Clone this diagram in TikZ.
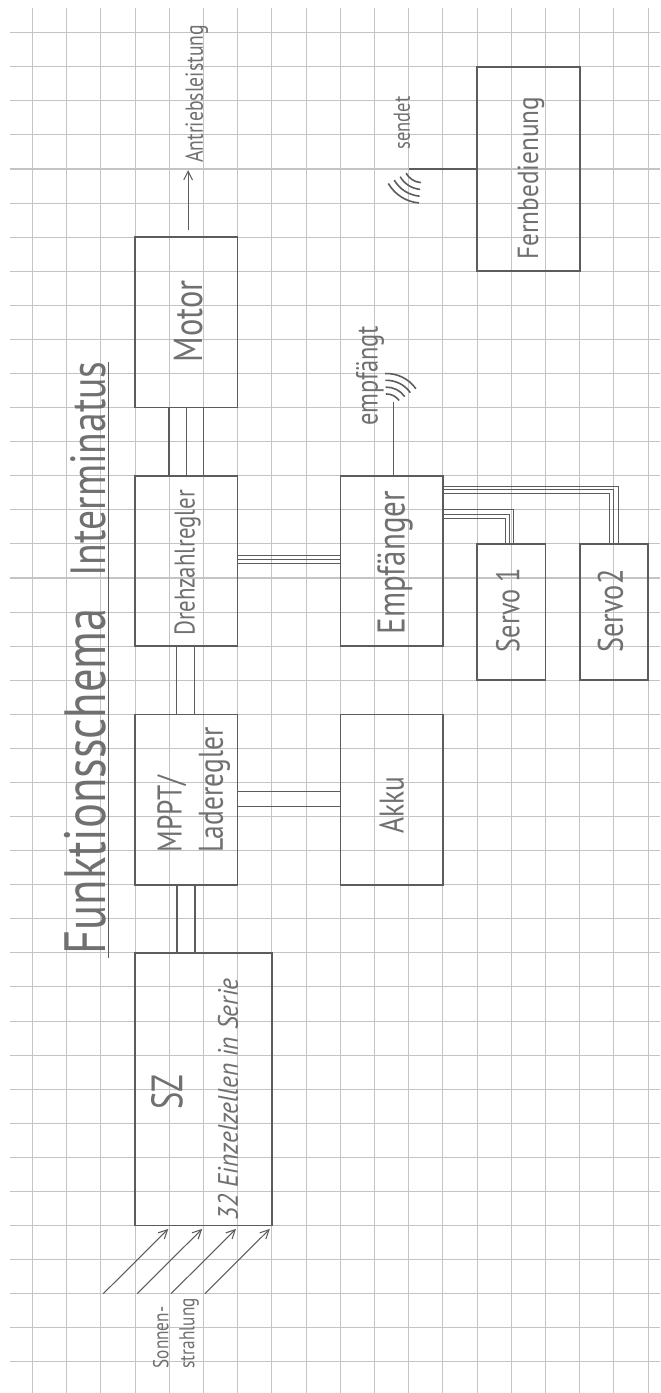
\documentclass[tikz,border=0pt]{standalone}
\usepackage{fontspec}
\setmainfont{PT Sans}
\usepackage{tikz}
\usetikzlibrary{
  calc,        % offsets from the box anchors
  arrows.meta  % barbed arrow tips
}

\definecolor{pencil}{gray}{0.36}
\definecolor{lead}{gray}{0.44}
\definecolor{gridgray}{gray}{0.77}

% handwritten label: fixed length, stretched letters
\newcommand{\hand}[3][1.25]{\resizebox{#2}{!}{\scalebox{1}[#1]{#3}}}

\begin{document}
\begin{tikzpicture}[x=0.684cm, y=-0.6816cm,
    box/.style 2 args={draw=pencil, line width=0.9pt, inner sep=0pt, outer sep=0pt,
        minimum width=#1*0.684cm, minimum height=#2*0.6816cm},
    lbl/.style={text=lead, rotate=90, inner sep=0pt},
    wire/.style={draw=pencil, line width=0.6pt},
    fatwire/.style={draw=pencil, line width=1.1pt},
    thinwire/.style={draw=pencil, line width=0.45pt},
    wave/.style={draw=pencil, line width=0.9pt},
    ray/.style={wire, -{Straight Barb[length=5pt, width=5pt]}}]

    % Paper and grid
    \useasboundingbox (-0.9503,-0.9595) rectangle (18.348,39.915);
    \fill[white] (-0.9503,-0.9595) rectangle (18.348,39.915);
    \foreach \k in {0,...,18}
        \draw[gridgray, line width=0.6pt] (\k,-0.72) -- (\k,39.92);
    \foreach \m in {0,...,39}
        \draw[gridgray, line width=0.6pt] (-0.66,\m) -- (18.35,\m);

    % Title
    \node[lbl, anchor=base west] (title) at (2.12,27.05) {\hand{6.92cm}{Funktionsschema}};
    \node[lbl, anchor=base west] (name) at (2.12,15.97) {\hand{4.3cm}{Interminatus}};
    \draw[wire] (2.22,27.15) -- (2.22,9.66);

    % Boxes
    \node[box={3}{5}] (motor) at (4.5,8.5) {};
    \node[box={3}{5}] (dreh) at (4.5,15.5) {};
    \node[box={3}{5}] (empf) at (10.5,15.5) {};
    \node[box={2}{4}] (servoA) at (14,17) {};
    \node[box={2}{4}] (servoB) at (17,17) {};
    \node[box={3}{5}] (mppt) at (4.5,22.5) {};
    \node[box={3}{5}] (akku) at (10.5,22.5) {};
    \node[box={4}{8}] (sz) at (5,31) {};
    \node[box={3}{6}] (fern) at (14.5,4) {};

    % Box labels
    \node[lbl] (motorlbl) at (4.55,8.46) {\hand{1.64cm}{Motor}};
    \node[lbl] (drehlbl) at (4.53,15.55) {\hand{2.9cm}{Drehzahlregler}};
    \node[lbl] (empflbl) at (10.6,15.55) {\hand{2.86cm}{Empfänger}};
    \node[lbl] (servoAlbl) at (13.9,16.94) {\hand{1.68cm}{Servo 1}};
    \node[lbl] (servoBlbl) at (16.9,16.97) {\hand{1.66cm}{Servo2}};
    \node[lbl, anchor=west] (mpptlbl) at (4.72,24.07)
        {\hand{2.5cm}{\begin{tabular}{@{}l@{}}MPPT/\\Laderegler\end{tabular}}};
    \node[lbl] (akkulbl) at (10.5,22.66) {\hand{1.14cm}{Akku}};
    \node[lbl] (szlbl) at (3.93,31.08) {\hand[1.35]{0.7cm}{SZ}};
    \node[lbl] (szinfo) at (5.72,31.3) {\hand[1.1]{4.84cm}{\itshape 32 Einzelzellen in Serie}};
    \node[lbl] (fernlbl) at (14.57,4.27) {\hand[1.15]{3.26cm}{Fernbedienung}};

    % Power lines
    \foreach \d/\w in {-0.5/fatwire, 0/thinwire, 0.5/fatwire}
        \draw[\w] ($(motor.south)+(\d,0)$) -- ($(dreh.north)+(\d,0)$);
    \foreach \d in {-0.3,0.25}
        \draw[wire] ($(dreh.south)+(\d,0)$) -- ($(mppt.north)+(\d,0)$);
    \foreach \d in {-0.23,0.21}
        \draw[wire] ($(mppt.east)+(0,\d)$) -- ($(akku.west)+(0,\d)$);
    \foreach \d in {-0.28,0.25} {
        \coordinate (p) at ($(mppt.south)+(\d,0)$);
        \draw[fatwire] (p) -- (p |- sz.north);
    }

    % Signal lines
    \foreach \d in {-0.17,-0.05,0.07}
        \draw[thinwire] ($(dreh.east)+(0,\d)$) -- ($(empf.west)+(0,\d)$);
    \foreach \dy/\dx in {1.0/0.07, 1.12/-0.05, 1.24/-0.17}
        \draw[thinwire] ($(empf.north east)+(0,\dy)$) -| ($(servoA.north)+(\dx,0)$);
    \foreach \dy/\dx in {0.31/0.12, 0.41/-0.02, 0.53/-0.14}
        \draw[thinwire] ($(empf.north east)+(0,\dy)$) -| ($(servoB.north)+(\dx,0)$);

    % Drive output
    \coordinate (drive) at ($(motor.north)+(0.05,-1.97)$);
    \draw[ray] ($(motor.north)+(0.05,-0.2)$) -- (drive);
    \node[lbl, anchor=west] (drivelbl) at ($(drive)+(0.25,-0.2)$) {\hand{2.76cm}{Antriebsleistung}};

    % Radio link: remote sends
    \coordinate (tx) at ($(fern.west)+(-2,0)$);
    \draw[wire] (fern.west) -- (tx);
    \coordinate (txc) at ($(tx)+(0.4,-0.15)$);
    \foreach \r in {0.55,0.75,0.95,1.15}
        \draw[wave] ($(txc)+(95:\r)$) arc[start angle=95, end angle=150, radius=\r];
    \node[lbl, anchor=west] (txlbl) at ($(tx)+(-0.2,-0.56)$) {\hand{1.06cm}{sendet}};

    % Radio link: receiver
    \coordinate (rx) at ($(empf.north)+(0.05,-2.15)$);
    \draw[wire] (empf.north -| rx) -- (rx);
    \coordinate (rxc) at ($(rx)+(-0.2,0.2)$);
    \foreach \r in {0.45,0.65,0.85,1.05}
        \draw[wave] ($(rxc)+(268:\r)$) arc[start angle=268, end angle=325, radius=\r];
    \node[lbl] (rxlbl) at (9.87,10.07) {\hand{2.0cm}{empfängt}};

    % Sunlight
    \foreach \i in {0,...,3}
        \draw[ray] ($(sz.south west)+(\i*0.99-0.93,2)$) -- ($(sz.south west)+(\i*0.99+0.97,0.1)$);
    \node[lbl, anchor=west] (sunlbl) at (4.2,39.2)
        {\hand{1.4cm}{\begin{tabular}{@{}l@{}}Sonnen-\\strahlung\end{tabular}}};

\end{tikzpicture}
\end{document}
